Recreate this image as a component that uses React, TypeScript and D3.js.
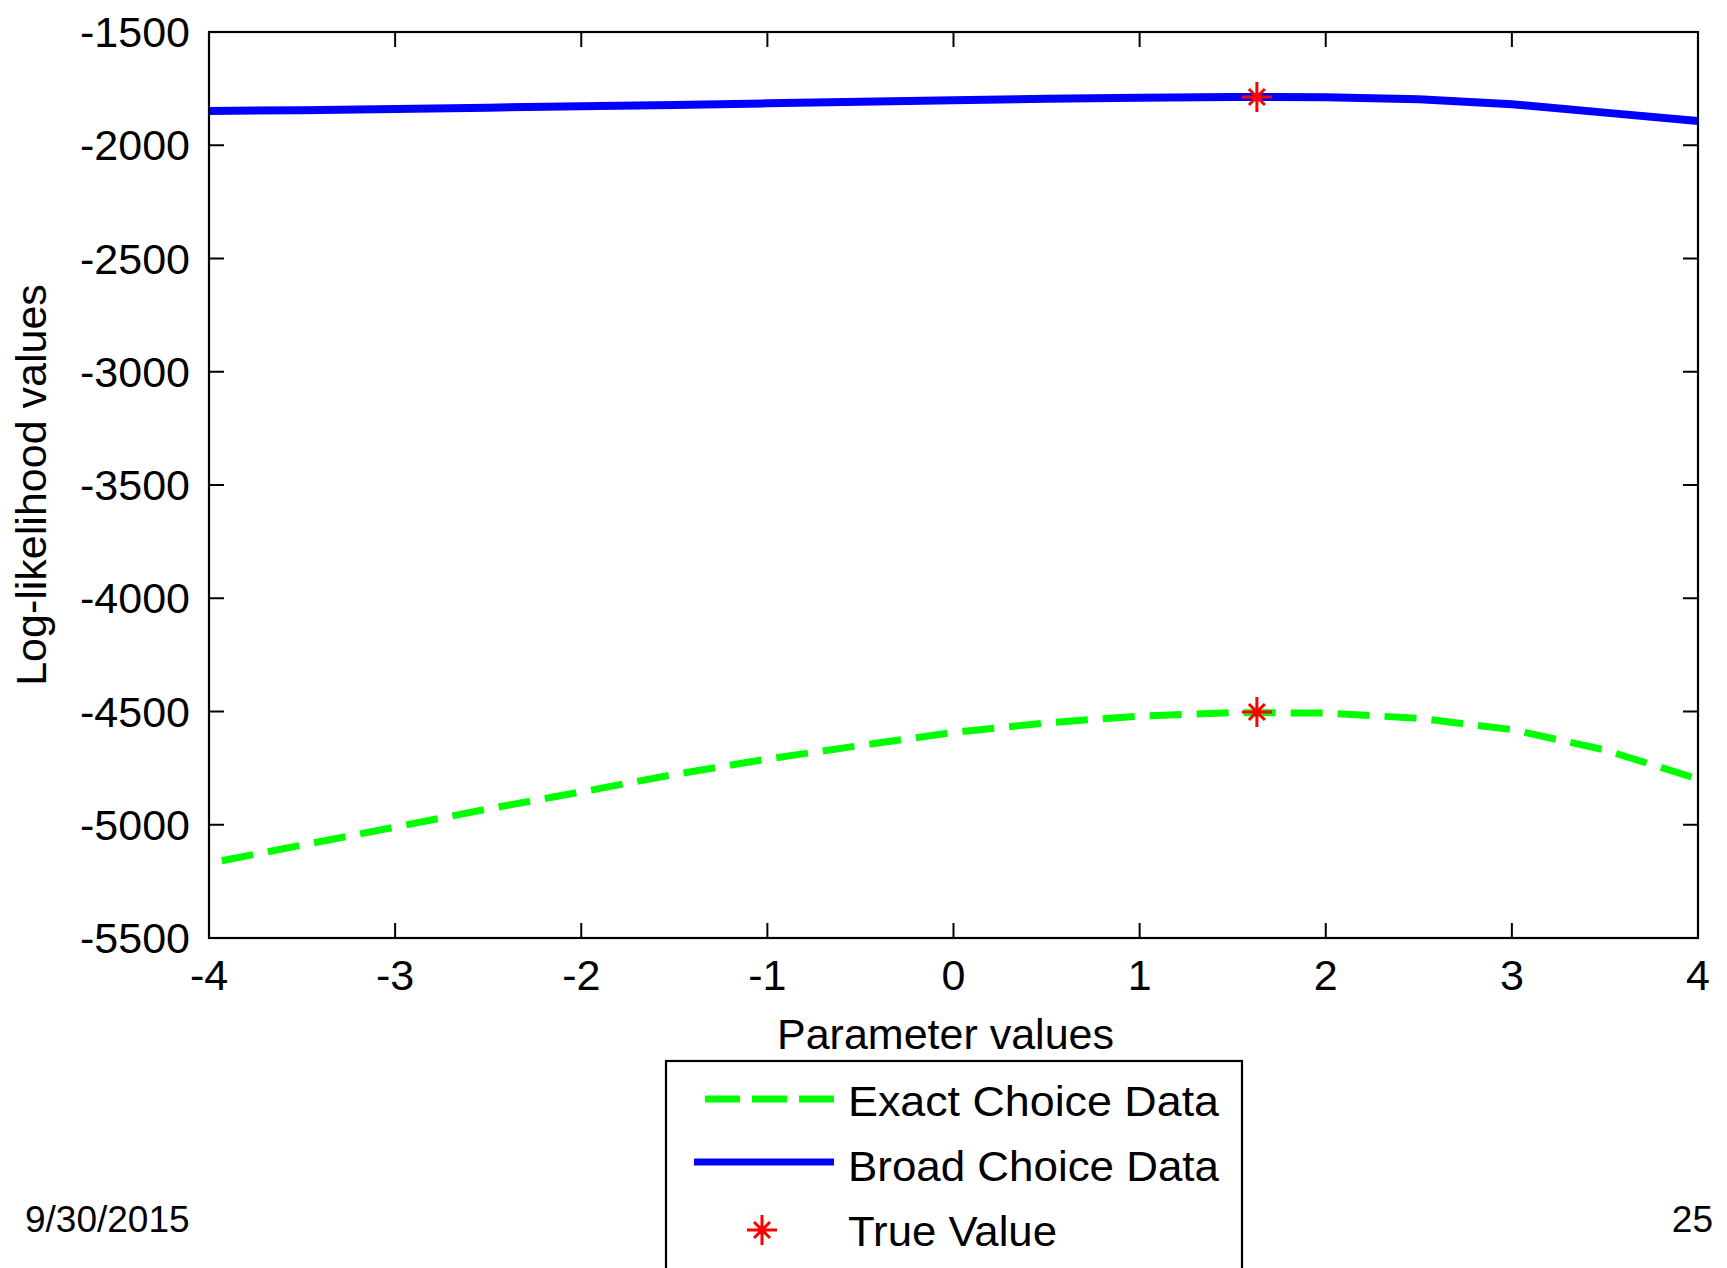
import React from "react";
import * as d3 from "d3";

const paramValues = [-4, -3.5, -3, -2.5, -2, -1.5, -1, -0.5, 0, 0.5, 1, 1.5, 2, 2.5, 3, 3.5, 4];
const broadLL = [-1849, -1845, -1840, -1834, -1828, -1822, -1815, -1808, -1801, -1795, -1790, -1787, -1788, -1797, -1819, -1856, -1893];
const exactLL = [-5170, -5090, -5010, -4930, -4855, -4778, -4710, -4650, -4592, -4550, -4520, -4505, -4507, -4530, -4580, -4670, -4798];
const trueParam = 1.63;
const trueBroad = -1787;
const trueExact = -4502;
const xTicks = [-4, -3, -2, -1, 0, 1, 2, 3, 4];
const yTicks = [-1500, -2000, -2500, -3000, -3500, -4000, -4500, -5000, -5500];
const legendLabels = ["Exact Choice Data", "Broad Choice Data", "True Value"];
const footerDate = "9/30/2015";
const footerPage = "25";

const W = 1727;
const H = 1268;
const L = 209, R = 1698, T = 32, B = 938;
const FONT = "'Liberation Sans', Arial, sans-serif";

function Star({ x, y, s = 1 }: { x: number; y: number; s?: number }) {
  const a = 15 * s, d = 8 * s;
  const p = `M${x - a},${y}L${x + a},${y}M${x},${y - a}L${x},${y + a}M${x - d},${y - d}L${x + d},${y + d}M${x - d},${y + d}L${x + d},${y - d}`;
  return (
    <g>
      <path d={p} stroke="#ff0000" strokeWidth={3} fill="none" />
      <circle cx={x} cy={y} r={4.5 * s} fill="#ff0000" />
    </g>
  );
}

export default function App() {
  const x = d3.scaleLinear().domain([-4, 4]).range([L, R]);
  const y = d3.scaleLinear().domain([-5500, -1500]).range([B, T]);
  const line = d3.line<number>().x((_, i) => x(paramValues[i])).y((v) => y(v));
  const tickLen = 15;

  return (
    <div style={{ position: "absolute", left: 0, top: 0, width: W, height: H, background: "#fff" }}>
      <svg width={W} height={H} style={{ display: "block" }}>
        <rect x={0} y={0} width={W} height={H} fill="#fff" />
        <defs>
          <clipPath id="plotclip">
            <rect x={L} y={T} width={R - L} height={B - T} />
          </clipPath>
        </defs>
        <g clipPath="url(#plotclip)">
          <path d={line(broadLL) || ""} fill="none" stroke="#0000ff" strokeWidth={8} />
          <path d={line(exactLL) || ""} fill="none" stroke="#00ff00" strokeWidth={7} strokeDasharray="32 15" strokeDashoffset={34} />
        </g>
        <Star x={x(trueParam)} y={y(trueBroad)} />
        <Star x={x(trueParam)} y={y(trueExact)} />
        <rect x={L} y={T} width={R - L} height={B - T} fill="none" stroke="#000" strokeWidth={2.2} />
        {xTicks.map((t) => (
          <g key={"xt" + t}>
            <line x1={x(t)} x2={x(t)} y1={B} y2={B - tickLen} stroke="#000" strokeWidth={2} />
            <line x1={x(t)} x2={x(t)} y1={T} y2={T + tickLen} stroke="#000" strokeWidth={2} />
            <text x={x(t)} y={990} textAnchor="middle" fontFamily={FONT} fontSize={43} fill="#000">{t}</text>
          </g>
        ))}
        {yTicks.map((t) => (
          <g key={"yt" + t}>
            <line x1={L} x2={L + tickLen} y1={y(t)} y2={y(t)} stroke="#000" strokeWidth={2} />
            <line x1={R} x2={R - tickLen} y1={y(t)} y2={y(t)} stroke="#000" strokeWidth={2} />
            <text x={190} y={y(t) + 15} textAnchor="end" fontFamily={FONT} fontSize={43} fill="#000">{t}</text>
          </g>
        ))}
        <text x={(L + R) / 2 - 8} y={1049} textAnchor="middle" fontFamily={FONT} fontSize={43} fill="#000">Parameter values</text>
        <text transform={`translate(46,${(T + B) / 2}) rotate(-90)`} textAnchor="middle" fontFamily={FONT} fontSize={43} fill="#000">Log-likelihood values</text>
        {/* legend */}
        <rect x={666} y={1061} width={576} height={260} fill="#fff" stroke="#000" strokeWidth={2.2} />
        <line x1={705} x2={834} y1={1099} y2={1099} stroke="#00ff00" strokeWidth={7} strokeDasharray="35 12" />
        <line x1={694} x2={834} y1={1162} y2={1162} stroke="#0000ff" strokeWidth={7} />
        <Star x={762} y={1230} />
        <text x={848} y={1116} fontFamily={FONT} fontSize={43} textLength={371} lengthAdjust="spacingAndGlyphs" fill="#000">{legendLabels[0]}</text>
        <text x={848} y={1181} fontFamily={FONT} fontSize={43} textLength={371} lengthAdjust="spacingAndGlyphs" fill="#000">{legendLabels[1]}</text>
        <text x={848} y={1246} fontFamily={FONT} fontSize={43} textLength={209} lengthAdjust="spacingAndGlyphs" fill="#000">{legendLabels[2]}</text>
        {/* footer */}
        <text x={25} y={1232} fontFamily={FONT} fontSize={37} fill="#000">{footerDate}</text>
        <text x={1713} y={1232} textAnchor="end" fontFamily={FONT} fontSize={37} fill="#000">{footerPage}</text>
      </svg>
    </div>
  );
}
